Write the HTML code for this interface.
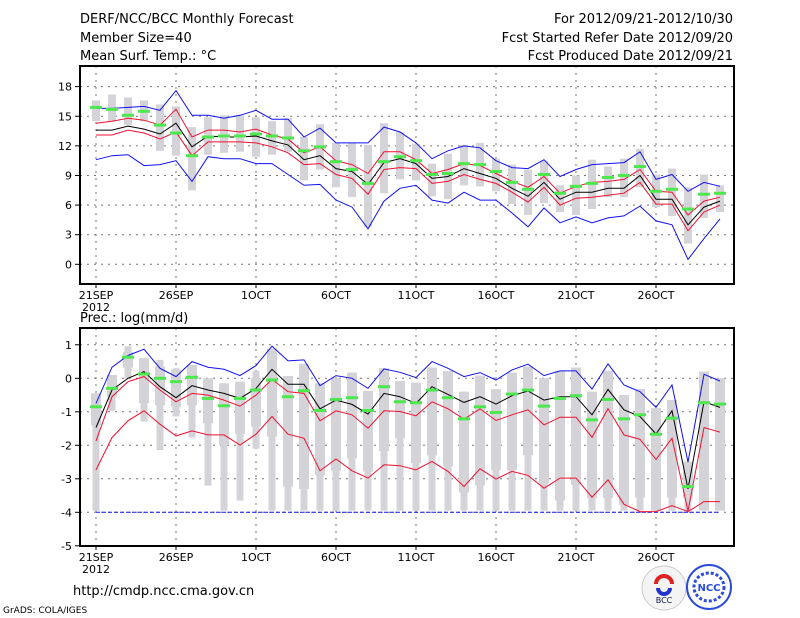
<!DOCTYPE html>
<html><head><meta charset="utf-8"><style>
body{margin:0;background:#fff;}
svg{display:block;font-family:"DejaVu Sans","Liberation Sans",sans-serif;}
</style></head><body>
<svg id="chart" width="800" height="618" viewBox="0 0 800 618" xmlns="http://www.w3.org/2000/svg">
<g font-size="13" fill="#000">
<text x="80" y="23">DERF/NCC/BCC Monthly Forecast</text>
<text x="80" y="42">Member Size=40</text>
<text x="80" y="60">Mean Surf. Temp.: °C</text>
<text x="733" y="23" text-anchor="end">For 2012/09/21-2012/10/30</text>
<text x="733" y="42" text-anchor="end">Fcst Started Refer Date 2012/09/20</text>
<text x="733" y="60" text-anchor="end">Fcst Produced Date 2012/09/21</text>
</g>
<g id="top"></g>
<g id="bot"></g>
<text x="80" y="322" font-size="13">Prec.: log(mm/d)</text>
<text x="73" y="595" font-size="13">http://cmdp.ncc.cma.gov.cn</text>
<text x="3" y="613" font-size="9">GrADS: COLA/IGES</text>
<g>
<circle cx="664" cy="588" r="22" fill="#f4f4f4" stroke="#ccc"/>
<path d="M656 584 a8 8 0 0 1 16 0" stroke="#d22" stroke-width="4" fill="none"/>
<path d="M658 588 a6 6 0 0 0 12 0" stroke="#23c" stroke-width="4" fill="none"/>
<text x="664" y="603" font-size="8" text-anchor="middle" fill="#114">BCC</text>
</g>
<g>
<circle cx="709" cy="587" r="22" fill="none" stroke="#2a4cd8" stroke-width="2"/>
<ellipse cx="709" cy="587" rx="15" ry="14" fill="none" stroke="#2a4cd8" stroke-width="3" stroke-dasharray="3,2"/>
<text x="709" y="591" font-size="10" font-weight="bold" text-anchor="middle" fill="#2a4cd8">NCC</text>
</g>
</svg>
<script>
// ---- temperature data ----
const tMean=[13.6,13.6,14.0,13.7,13.2,14.3,11.9,13.0,12.9,12.9,13.0,12.5,12.1,10.6,11.0,9.7,9.4,8.1,10.3,10.7,10.2,8.7,8.9,9.7,9.2,8.7,7.7,6.9,8.3,6.6,7.3,7.3,7.7,7.7,9.0,6.6,6.6,4.0,5.8,6.4];
const tRedHi=[14.3,14.5,14.8,14.6,14.1,15.7,12.9,13.6,13.6,13.4,13.7,13.1,12.7,11.3,11.9,10.5,10.1,9.2,11.4,11.4,10.6,9.2,9.6,10.2,10.0,9.2,8.4,7.8,8.9,7.2,7.9,8.3,8.4,8.6,9.6,7.4,7.3,5.0,6.4,6.8];
const tRedLo=[13.1,13.1,13.6,13.3,12.7,13.4,11.0,12.4,12.4,12.4,12.3,11.9,11.3,10.1,10.2,9.1,8.7,7.1,9.6,9.8,9.7,8.2,8.4,9.1,8.6,8.2,7.3,6.3,7.8,6.0,6.7,6.8,7.0,7.2,8.3,6.1,6.1,3.4,5.3,6.0];
const tMax=[15.8,15.8,15.9,16.0,15.6,17.6,15.1,15.1,14.8,15.1,15.6,14.7,14.7,12.9,13.8,12.3,12.3,12.3,13.9,13.4,12.3,10.7,11.5,12.0,11.8,10.5,9.8,9.7,10.6,8.9,9.6,10.1,10.2,10.3,11.4,8.6,9.1,7.4,8.3,7.9];
const tMin=[10.6,11.0,11.1,10.0,10.1,10.5,8.4,10.9,10.7,10.7,10.2,10.2,9.1,8.0,8.1,6.5,5.8,3.6,6.4,7.7,8.0,6.5,6.2,7.3,6.5,6.5,5.2,3.8,5.7,4.2,4.8,4.2,4.7,4.9,5.9,4.4,4.0,0.5,2.6,4.6];
const tObs=[15.9,15.7,15.1,15.5,14.1,13.3,11.0,12.9,13.0,13.0,13.2,13.0,12.8,11.5,11.9,10.4,9.6,8.2,10.4,10.9,10.5,9.1,9.2,10.2,10.1,9.4,8.3,7.6,9.1,7.2,7.9,8.2,8.8,9.0,9.9,7.4,7.6,5.6,7.1,7.2];
const tBarHi=[16.6,17.2,16.9,16.6,16.2,16.0,13.9,14.9,15.1,15.1,14.9,14.5,14.8,12.9,14.2,12.3,12.3,12.1,14.3,13.4,12.2,10.2,11.2,12.1,12.3,10.7,10.1,9.6,10.5,8.0,9.0,10.6,9.9,10.7,11.7,9.1,9.7,7.8,9.1,8.0];
const tBarLo=[14.5,14.5,14.1,14.5,11.5,11.0,7.5,11.1,11.3,11.4,10.9,11.1,11.4,8.5,9.6,7.8,6.8,3.8,7.2,8.6,8.5,6.9,6.6,8.0,7.9,7.4,6.1,5.0,6.2,5.3,5.0,5.6,6.8,6.8,7.8,5.8,4.9,2.1,4.7,5.3];
const tTicks=[0,3,6,9,12,15,18];
// ---- precipitation data ----
const pMean=[-1.47,-0.35,0,0.2,-0.25,-0.58,-0.22,-0.35,-0.45,-0.6,-0.3,0.27,-0.18,-0.18,-0.91,-0.65,-0.78,-1.07,-0.45,-0.55,-0.75,-0.25,-0.48,-0.72,-0.55,-0.77,-0.52,-0.38,-0.65,-0.55,-0.55,-1.09,-0.33,-0.94,-1.14,-1.66,-0.97,-3.3,-0.7,-0.87];
const pRedHi=[-1.87,-0.55,-0.1,0.05,-0.35,-0.7,-0.45,-0.5,-0.65,-0.83,-0.5,-0.03,-0.4,-0.45,-1.27,-0.97,-1.09,-1.49,-0.97,-0.99,-1.12,-0.7,-0.91,-1.22,-0.91,-1.26,-1.09,-0.94,-1.39,-1.16,-1.16,-1.76,-0.91,-1.69,-1.82,-2.42,-1.79,-3.96,-1.47,-1.61];
const pRedLo=[-2.73,-1.77,-1.27,-0.97,-1.37,-1.72,-1.57,-1.69,-1.69,-1.99,-1.67,-1.14,-1.67,-1.79,-2.76,-2.41,-2.76,-2.98,-2.58,-2.61,-2.73,-2.48,-2.78,-3.23,-2.7,-3.01,-2.78,-2.9,-3.28,-2.98,-2.98,-3.55,-3.03,-3.76,-3.98,-3.98,-3.8,-3.98,-3.68,-3.68];
const pMax=[-0.75,0.33,0.68,0.87,0.3,0.05,0.5,0.33,0.27,0.08,0.38,0.96,0.52,0.55,-0.22,0.08,0,-0.3,0.28,0.18,0.02,0.5,0.3,0.05,0.17,-0.05,0.25,0.42,0.08,0.22,0.22,-0.32,0.43,-0.2,-0.4,-0.87,-0.2,-2.5,0.12,-0.08];
const pMin=[-4,-4,-4,-4,-4,-4,-4,-4,-4,-4,-4,-4,-4,-4,-4,-4,-4,-4,-4,-4,-4,-4,-4,-4,-4,-4,-4,-4,-4,-4,-4,-4,-4,-4,-4,-4,-4,-4,-4,-4];
const pObs=[-0.85,-0.3,0.63,0.13,0,-0.1,0.03,-0.6,-0.82,-0.6,-0.35,-0.05,-0.55,-0.37,-0.96,-0.63,-0.58,-0.96,-0.25,-0.7,-0.73,-0.35,-0.58,-1.21,-0.85,-1.02,-0.47,-0.35,-0.83,-0.6,-0.52,-1.24,-0.63,-1.21,-1.09,-1.67,-1.19,-3.23,-0.73,-0.77];
const pWhiHi=[-0.45,0.1,0.96,0.6,0.55,0.3,0.4,0,-0.15,-0.1,0.22,0.89,0.07,0.43,-0.15,0,0.17,-0.38,0.3,-0.08,-0.13,0.32,0.22,-0.4,0.08,-0.32,0.17,0.35,0,0.22,0.32,-0.4,0.22,-0.5,-0.32,-0.89,-0.65,-2.49,0.2,0];
const pBoxHi=[-0.45,0.1,0.79,0.6,0.35,0.25,0.4,0,-0.15,-0.1,0,0.89,0.07,0.43,-0.15,0,0.17,-0.38,0.3,-0.08,-0.13,0.32,0.22,-0.4,0.08,-0.32,0.17,0.35,0,0.22,0.32,-0.4,0.22,-0.5,-0.32,-0.89,-0.65,-2.49,0.2,0];
const pBoxLo=[-1.41,-0.55,0.32,-0.74,-0.8,-0.85,-0.8,-1.34,-1.99,-1.66,-1.44,-1.74,-3.23,-3.3,-2.9,-2.76,-2.39,-2.78,-2.17,-1.79,-2.53,-2.3,-2.63,-3.41,-3.2,-2.73,-2.73,-2.29,-3.13,-3.65,-3.18,-3.58,-3.58,-3.78,-3.56,-3.95,-3.56,-3.56,-3.95,-3.95];
const pWhiLo=[-3.95,-0.97,0,-1.29,-2.14,-1.14,-1.77,-3.2,-3.95,-3.65,-2.1,-3.95,-3.95,-3.95,-3.95,-3.95,-3.95,-3.95,-3.95,-3.95,-3.95,-3.95,-3.95,-3.95,-3.95,-3.95,-3.95,-3.95,-3.95,-3.95,-3.95,-3.95,-3.95,-3.95,-3.95,-3.95,-3.95,-3.95,-3.95,-3.95];
const pTicks=[-5,-4,-3,-2,-1,0,1];
const xTickIdx=[0,5,10,15,20,25,30,35];
const xTickLab=["21SEP","26SEP","1OCT","6OCT","11OCT","16OCT","21OCT","26OCT"];

const NS="http://www.w3.org/2000/svg";
const L=80,R=734;
function xs(i){return 96+16*i;}
function yT(v){return 264.3-v*9.87;}
function yB(v){return 378.3-v*33.5;}
function mk(p,tag,at){const e=document.createElementNS(NS,tag);for(const k in at)e.setAttribute(k,at[k]);p.appendChild(e);return e;}

function panel(g,top,bottom,yf,ticks,bars,lines,obs){
  // grid
  ticks.forEach(t=>{const y=yf(t);
    if(y>top+2&&y<bottom-2){const gl=mk(g,'line',{x1:L,x2:R,y1:y,y2:y,stroke:'#777','stroke-dasharray':'2,5'});
    
    }
    const tk=mk(g,'line',{x1:L-5,x2:L,y1:y,y2:y,stroke:'#000'});
    
    
    const tl=mk(g,'text',{x:L-8,y:y+4,'text-anchor':'end','font-size':11});
    tl.textContent=t;
    
    
  });
  xTickIdx.forEach((d,k)=>{const x=xs(d);
    const gl=mk(g,'line',{x1:x,x2:x,y1:top,y2:bottom,stroke:'#777','stroke-dasharray':'2,5'});
    
    
    const tk=mk(g,'line',{x1:x,x2:x,y1:bottom,y2:bottom+4,stroke:'#000'});
    
    
    const tl=mk(g,'text',{x:x,y:bottom+15,'text-anchor':'middle','font-size':11});
    tl.textContent=xTickLab[k];
    
    
  });
  const yr=mk(g,'text',{x:xs(0),y:bottom+27,'text-anchor':'middle','font-size':11});
  yr.textContent='2012';
  
  
  bars(g);
  lines.forEach(([arr,col,name,dash])=>{
    const pl=mk(g,'polyline',{points:arr.map((v,i)=>xs(i)+','+yf(v).toFixed(1)).join(' '),fill:'none',stroke:col,'stroke-width':1});
    if(dash)pl.setAttribute('stroke-dasharray',dash);
    
    
  });
  obs.forEach((v,i)=>{const r=mk(g,'rect',{x:xs(i)-6,y:yf(v)-1.5,width:12,height:3,fill:'#4de84d'});
    
    });
  const fr=mk(g,'rect',{x:L,y:top,width:R-L,height:bottom-top,fill:'none',stroke:'#000','stroke-width':2});
  
  
}
const gt=document.getElementById('top');
panel(gt,66,284,yT,tTicks,g=>{
  tBarHi.forEach((h,i)=>{const r=mk(g,'rect',{x:xs(i)-4,y:yT(h),width:8,height:yT(tBarLo[i])-yT(h),fill:'#d4d4d8'});
    
    });
},[[tMax,'#1010f0','max-line'],[tMin,'#1010f0','min-line'],[tRedHi,'#f01030','upper-spread-line'],[tRedLo,'#f01030','lower-spread-line'],[tMean,'#000','ensemble-mean-line']],tObs);
const gb=document.getElementById('bot');
panel(gb,328,546,yB,pTicks,g=>{
  pWhiHi.forEach((h,i)=>{const r=mk(g,'rect',{x:xs(i)-3.5,y:yB(h),width:7,height:yB(pWhiLo[i])-yB(h),fill:'#d4d4d8'});
    
    
    const b=mk(g,'rect',{x:xs(i)-5,y:yB(pBoxHi[i]),width:10,height:Math.max(0,yB(pBoxLo[i])-yB(pBoxHi[i])),fill:'#d4d4d8'});
    
    });
},[[pMax,'#1010f0','max-line'],[pMin,'#1010f0','min-line','4,2'],[pRedHi,'#f01030','upper-spread-line'],[pRedLo,'#f01030','lower-spread-line'],[pMean,'#000','ensemble-mean-line']],pObs);
</script>
</body></html>
